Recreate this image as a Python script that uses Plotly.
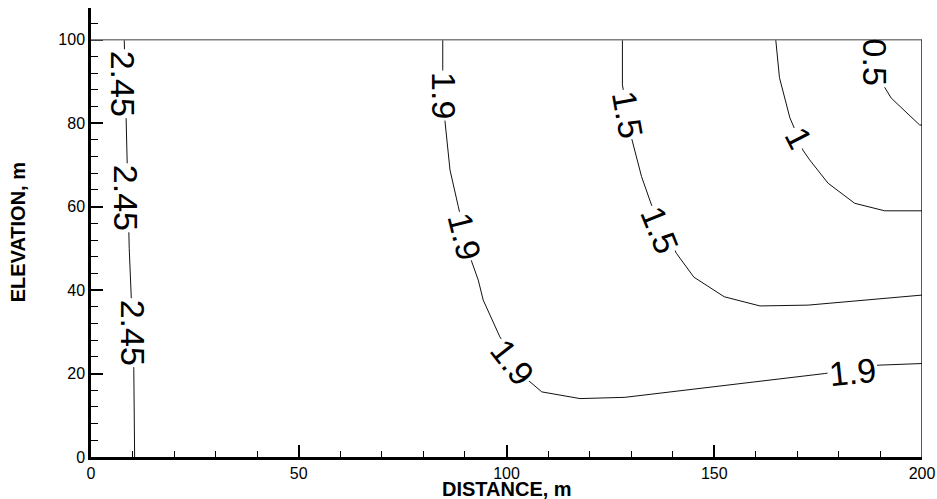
import plotly.graph_objects as go

# ---- domain / axes data ----
x_range = [0, 200]
y_range = [0, 107.6]
domain_x_max = 200
domain_y_max = 100
x_tick_step = 50
y_tick_step = 20

# ---- contour lines ----
c245_x = [8.0, 8.5, 9.2, 9.7, 10.3, 10.5]
c245_y = [100, 80, 50, 38, 21, 0]

c19_x = [84.66, 84.66, 85.2, 86.4, 88.4, 91.2, 93.2, 94.4, 98.4, 105.2, 108.5, 117.7, 128.5, 165.7, 176.6, 189.4, 200]
c19_y = [100, 92.8, 80.4, 68.8, 60.0, 48.0, 42.4, 37.6, 28.8, 18.4, 15.6, 14.0, 14.3, 18.6, 20.0, 22.0, 22.4]

c15_x = [127.9, 127.9, 130.1, 132.5, 134.9, 140.9, 145.1, 152.4, 161.0, 172.6, 200]
c15_y = [100, 89.2, 76.4, 67.2, 60.4, 48.8, 43.1, 38.4, 36.2, 36.4, 38.8]

c10_x = [164.8, 165.7, 168.2, 170.3, 171.3, 172.96, 177.4, 183.8, 191.0, 200]
c10_y = [100, 90.9, 81.3, 76.4, 73.6, 71.2, 65.6, 60.8, 59.0, 59.0]

c05_x = [191.0, 192.6, 199.4, 200]
c05_y = [88.6, 86.0, 79.6, 79.5]

contours = [
    (c245_x, c245_y),
    (c19_x, c19_y),
    (c15_x, c15_y),
    (c10_x, c10_y),
    (c05_x, c05_y),
]

# ---- contour labels ----
label_text = ["2.45", "2.45", "2.45", "1.9", "1.9", "1.9", "1.9", "1.5", "1.5", "1", "0.5"]
label_x = [7.9, 8.3, 10.1, 85.1, 90.0, 101.4, 183.2, 129.2, 136.9, 170.3, 188.6]
label_y = [89.5, 62.0, 29.8, 86.6, 52.8, 22.8, 20.4, 82.0, 54.4, 76.4, 94.6]
label_angle = [90, 90, 90, 90, 76, 52, -6, 80, 68, 63, 90]

FONT = "Liberation Sans, Arial, sans-serif"

fig = go.Figure()
for cx, cy in contours:
    fig.add_trace(go.Scatter(x=cx, y=cy, mode="lines",
                             line=dict(color="#111111", width=1),
                             hoverinfo="skip", showlegend=False))

# domain boundary
fig.add_shape(type="line", x0=x_range[0], x1=domain_x_max, y0=domain_y_max, y1=domain_y_max,
              line=dict(color="#808080", width=1.5), layer="above")
fig.add_shape(type="line", x0=domain_x_max, x1=domain_x_max, y0=0, y1=domain_y_max,
              line=dict(color="black", width=1.3), layer="above")

for t, lx, ly, ang in zip(label_text, label_x, label_y, label_angle):
    fig.add_annotation(x=lx, y=ly, text=t, textangle=ang, showarrow=False,
                       xanchor="center", yanchor="middle",
                       font=dict(family=FONT, size=34, color="black"),
                       bgcolor="white" if t != "0.5" else "rgba(0,0,0,0)",
                       borderpad=1)

# axis titles
fig.add_annotation(xref="paper", yref="paper", x=0.5, y=-0.071, text="<b>DISTANCE, m</b>",
                   showarrow=False, xanchor="center", yanchor="middle",
                   font=dict(family=FONT, size=20, color="black"))
fig.add_annotation(xref="paper", yref="paper", x=-0.088, y=0.5, text="<b>ELEVATION, m</b>",
                   textangle=-90, showarrow=False, xanchor="center", yanchor="middle",
                   font=dict(family=FONT, size=20, color="black"))

fig.update_xaxes(range=x_range, showline=True, linewidth=2.5, linecolor="black",
                 ticks="inside", ticklen=12, tickwidth=2, tickcolor="black",
                 tick0=0, dtick=x_tick_step, showgrid=False, zeroline=False, automargin=False,
                 tickfont=dict(family=FONT, size=16, color="black"),
                 minor=dict(dtick=10, ticks="inside", ticklen=6, tickwidth=1.2, tickcolor="black", showgrid=False))
fig.update_yaxes(range=y_range, showline=True, linewidth=2.5, linecolor="black",
                 ticks="inside", ticklen=12, tickwidth=2, tickcolor="black",
                 tick0=0, dtick=y_tick_step, showgrid=False, zeroline=False, automargin=False,
                 tickfont=dict(family=FONT, size=16, color="black"),
                 minor=dict(dtick=4, ticks="inside", ticklen=7, tickwidth=1.2, tickcolor="black", showgrid=False))

fig.update_layout(width=937, height=499, margin=dict(l=91, r=15, t=8, b=42, autoexpand=False),
                  plot_bgcolor="white", paper_bgcolor="white", showlegend=False)

fig.write_html("out.html", config={"displayModeBar": False},
               post_script="document.body.style.margin='0';document.body.style.padding='0';document.body.style.overflow='hidden';")
